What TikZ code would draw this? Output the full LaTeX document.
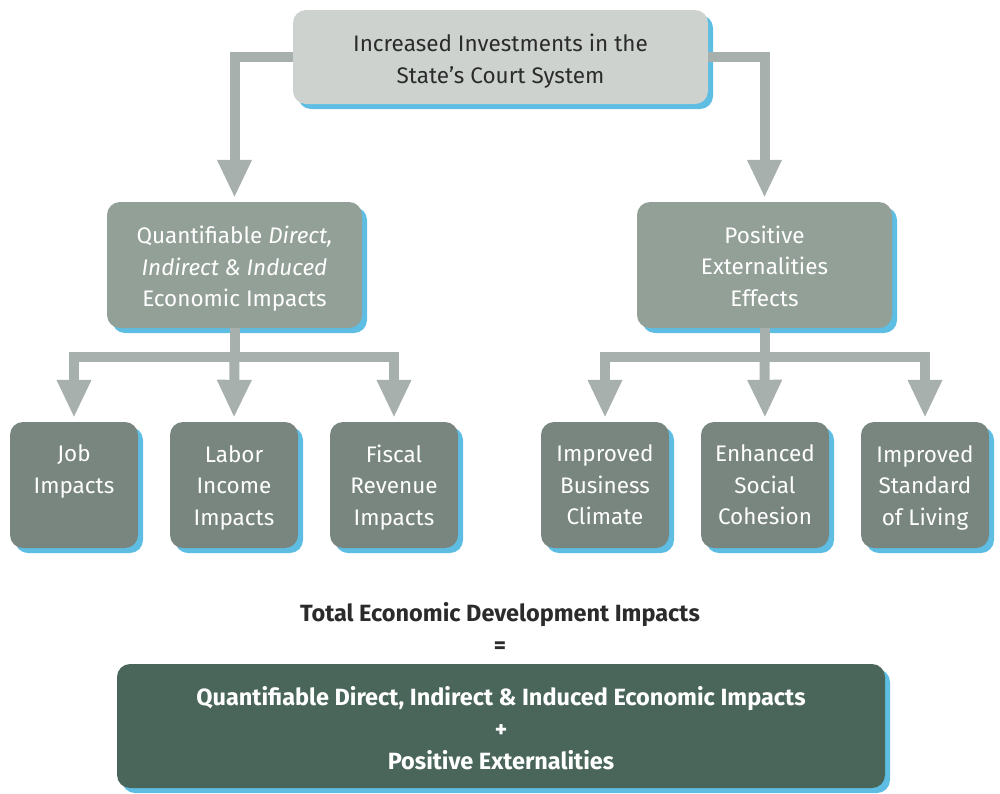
\documentclass[tikz,border=0pt]{standalone}
\usepackage{fontspec}
\setmainfont{Fira Sans}
\usetikzlibrary{arrows.meta,shadows}
\definecolor{topfill}{HTML}{CDD2CF}
\definecolor{midfill}{HTML}{93A098}
\definecolor{lowfill}{HTML}{78867F}
\definecolor{sumfill}{HTML}{4A665B}
\definecolor{shadowblue}{HTML}{5EBDE2}
\definecolor{arrowgray}{HTML}{A7B0AC}
\definecolor{darktext}{HTML}{2B2B2B}
\tikzset{
  box/.style={rounded corners=13pt, inner sep=0pt,
    drop shadow={shadow xshift=5pt, shadow yshift=-5pt, fill=shadowblue, opacity=1}},
  txt/.style={inner sep=0pt, align=center, font=\fontsize{22.5}{31.5}\selectfont},
  topbox/.style={box, fill=topfill, minimum width=415pt, minimum height=94pt},
  midbox/.style={box, fill=midfill, minimum width=255pt, minimum height=126pt},
  lowbox/.style={box, fill=lowfill, minimum width=128pt, minimum height=126pt},
  sumbox/.style={box, fill=sumfill, minimum width=768pt, minimum height=124pt},
  boldtxt/.style={txt, font=\fontsize{23.5}{32}\selectfont\bfseries},
  conn/.style={draw=arrowgray, line width=10pt},
  arr/.style={conn, -{Triangle[width=32pt,length=38pt]}, shorten >=4pt}
}
\begin{document}
\begin{tikzpicture}[x=1pt,y=-1pt]
\useasboundingbox (0,0) rectangle (1000,793);
\node[topbox] (top) at (500.5,57) {};
\node[txt, text=darktext] (topt) at ([yshift=-4pt]top.center) {Increased Investments in the\\State’s Court System};
\node[midbox] (ml) at (234.5,265) {};
\node[txt, text=white] (mlt) at ([yshift=-4pt]ml.center) {Quantifiable \textit{Direct,}\\\textit{Indirect \& Induced}\\Economic Impacts};
\node[midbox] (mr) at (764.5,265) {};
\node[txt, text=white] (mrt) at ([yshift=-1pt]mr.center) {Positive\\Externalities\\Effects};
\node[lowbox] (job) at (74,485) {};
\node[txt, text=white] (jobt) at ([yshift=-2pt]job.center) {Job\\Impacts\\\phantom{Impacts}};
\node[lowbox] (lab) at (234,485) {};
\node[txt, text=white] (labt) at ([yshift=-2.5pt]lab.center) {Labor\\Income\\Impacts};
\node[lowbox] (fis) at (394,485) {};
\node[txt, text=white] (fist) at ([yshift=-2.5pt]fis.center) {Fiscal\\Revenue\\Impacts};
\node[lowbox] (bus) at (605,485) {};
\node[txt, text=white] (bust) at ([yshift=0pt]bus.center) {Improved\\Business\\Climate};
\node[lowbox] (soc) at (765,485) {};
\node[txt, text=white] (soct) at ([yshift=0pt]soc.center) {Enhanced\\Social\\Cohesion};
\node[lowbox] (liv) at (925,485) {};
\node[txt, text=white] (livt) at ([yshift=-2.5pt]liv.center) {Improved\\Standard\\of Living};
\node[boldtxt, text=darktext] (tot) at (500,628) {Total Economic Development Impacts\\=};
\node[sumbox] (sum) at (501,726) {};
\node[boldtxt, text=white] (sumt) at ([yshift=-2pt]sum.center) {Quantifiable Direct, Indirect \& Induced Economic Impacts\\+\\Positive Externalities};
% connectors
\draw[arr] (top.west) -| (ml.north);
\draw[arr] (top.east) -| (mr.north);
\coordinate (lb) at (234.5,357);
\coordinate (rb) at (764.5,357);
\draw[conn] (ml.south) -- (lb);
\draw[arr] (lb) -| (job.north);
\draw[arr] (lb) -- (lab.north);
\draw[arr] (lb) -| (fis.north);
\draw[conn] (mr.south) -- (rb);
\draw[arr] (rb) -| (bus.north);
\draw[arr] (rb) -- (soc.north);
\draw[arr] (rb) -| (liv.north);
\end{tikzpicture}
\end{document}
